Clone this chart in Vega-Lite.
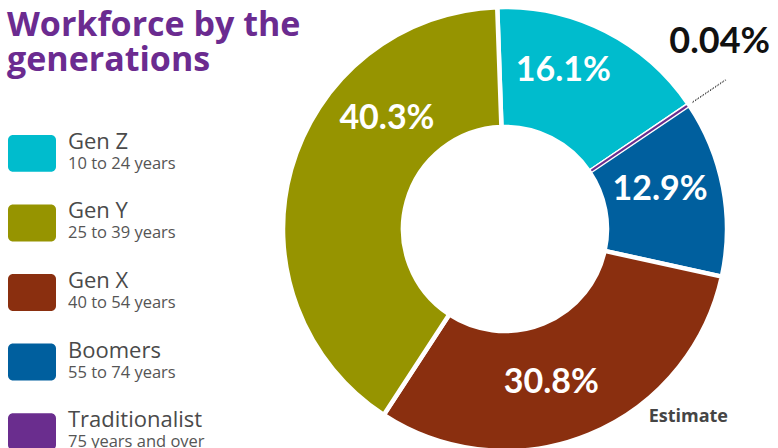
{
  "$schema": "https://vega.github.io/schema/vega-lite/v6.json",
  "padding": 0,
  "spacing": 0,
  "bounds": "flush",
  "background": "white",
  "config": {"view": {"stroke": null}},
  "data": {
    "values": [
      {"name": "Gen Z", "ages": "10 to 24 years", "value": 16.1, "label": "16.1%", "rank": 1},
      {"name": "Traditionalist", "ages": "75 years and over", "value": 0.04, "label": "0.04%", "rank": 2},
      {"name": "Boomers", "ages": "55 to 74 years", "value": 12.9, "label": "12.9%", "rank": 3},
      {"name": "Gen X", "ages": "40 to 54 years", "value": 30.8, "label": "30.8%", "rank": 4},
      {"name": "Gen Y", "ages": "25 to 39 years", "value": 40.3, "label": "40.3%", "rank": 5}
    ]
  },
  "hconcat": [
    {
      "width": 275,
      "height": 315,
      "title": {
        "text": ["Workforce by the", "generations"],
        "anchor": "start",
        "font": "Open Sans",
        "fontSize": 34,
        "fontWeight": "bold",
        "color": "#6b2b90",
        "lineHeight": 35,
        "offset": 53,
        "dx": 7
      },
      "encoding": {
        "y": {
          "field": "name",
          "type": "nominal",
          "sort": ["Gen Z", "Gen Y", "Gen X", "Boomers", "Traditionalist"],
          "axis": null,
          "scale": {"paddingInner": 0.47, "paddingOuter": 0}
        }
      },
      "layer": [
        {
          "mark": {"type": "rect", "cornerRadius": 5, "clip": true},
          "encoding": {
            "x": {"value": 8},
            "x2": {"value": 56},
            "color": {
              "field": "name",
              "type": "nominal",
              "legend": null,
              "scale": {
                "domain": ["Gen Z", "Gen Y", "Gen X", "Boomers", "Traditionalist"],
                "range": ["#00bccd", "#969400", "#8a2f0f", "#005f9e", "#6a2d8e"]
              }
            }
          }
        },
        {
          "mark": {"type": "text", "align": "left", "baseline": "alphabetic", "dy": -4.5, "font": "Open Sans", "fontSize": 22, "color": "#4a4a4a"},
          "encoding": {"x": {"value": 68}, "text": {"field": "name"}}
        },
        {
          "mark": {"type": "text", "align": "left", "baseline": "alphabetic", "dy": 15.5, "font": "Open Sans", "fontSize": 16.5, "color": "#555555", "clip": true},
          "encoding": {"x": {"value": 68}, "text": {"field": "ages"}}
        }
      ]
    },
    {
      "width": 460,
      "height": 315,
      "title": {
        "text": "Estimate",
        "orient": "bottom",
        "anchor": "end",
        "frame": "group",
        "offset": -45,
        "dx": -7,
        "font": "Open Sans",
        "fontSize": 18,
        "fontWeight": "bold",
        "color": "#454545"
      },
      "transform": [
        {"stack": "value", "sort": [{"field": "rank"}], "groupby": [], "as": ["s0", "s1"]}
      ],
      "encoding": {
        "theta": {"field": "value", "type": "quantitative", "stack": true, "scale": {"range": [-0.035, 6.2482]}},
        "order": {"field": "rank", "type": "quantitative"},
        "detail": {"field": "name"}
      },
      "layer": [
        {
          "mark": {"type": "arc", "innerRadius": 102, "outerRadius": 222, "stroke": "white", "strokeWidth": 4.5, "strokeJoin": "round", "yOffset": -63.5},
          "encoding": {
            "color": {"field": "name", "type": "nominal", "legend": null}
          }
        },
        {
          "mark": {"type": "arc", "innerRadius": 105, "outerRadius": 219, "fill": "transparent", "strokeWidth": 1.8, "strokeJoin": "round", "yOffset": -63.5},
          "encoding": {
            "stroke": {"condition": {"test": "datum.name === 'Traditionalist'", "value": "#6a2d8e"}, "value": "transparent"}
          }
        },
        {
          "transform": [{"filter": "datum.name === 'Traditionalist'"}],
          "mark": {"type": "arc", "innerRadius": 226, "outerRadius": 266, "fill": "transparent", "stroke": "#222222", "strokeWidth": 0.8, "strokeDash": [1.5, 1.5], "strokeJoin": "round", "yOffset": -63.5},
          "encoding": {
            "theta": {"field": "s0", "type": "quantitative", "stack": null},
            "theta2": {"field": "s1"}
          }
        },
        {
          "mark": {"type": "text", "radius": 162, "yOffset": -63.5, "dx": -15, "dy": -14, "font": "Lato", "fontSize": 34, "fontWeight": "bold", "fill": "white"},
          "encoding": {"text": {"condition": {"test": "datum.name !== 'Gen Z'", "value": ""}, "field": "label"}}
        },
        {
          "mark": {"type": "text", "radius": 162, "yOffset": -63.5, "dx": -4, "dy": -9, "font": "Lato", "fontSize": 34, "fontWeight": "bold", "fill": "white"},
          "encoding": {"text": {"condition": {"test": "datum.name !== 'Boomers'", "value": ""}, "field": "label"}}
        },
        {
          "mark": {"type": "text", "radius": 162, "yOffset": -63.5, "dx": -15, "dy": 4, "font": "Lato", "fontSize": 34, "fontWeight": "bold", "fill": "white"},
          "encoding": {"text": {"condition": {"test": "datum.name !== 'Gen X'", "value": ""}, "field": "label"}}
        },
        {
          "mark": {"type": "text", "radius": 162, "yOffset": -63.5, "dx": 38, "dy": -67, "font": "Lato", "fontSize": 34, "fontWeight": "bold", "fill": "white"},
          "encoding": {"text": {"condition": {"test": "datum.name !== 'Gen Y'", "value": ""}, "field": "label"}}
        },
        {
          "transform": [{"filter": "datum.name === 'Traditionalist'"}],
          "mark": {"type": "text", "radius": 240, "yOffset": -63.5, "dx": 16, "dy": -52, "font": "Lato", "fontSize": 36, "fontWeight": "bold", "fill": "#111111"},
          "encoding": {
            "theta": {"field": "s0", "type": "quantitative", "stack": null},
            "text": {"field": "label"}
          }
        }
      ]
    }
  ]
}
